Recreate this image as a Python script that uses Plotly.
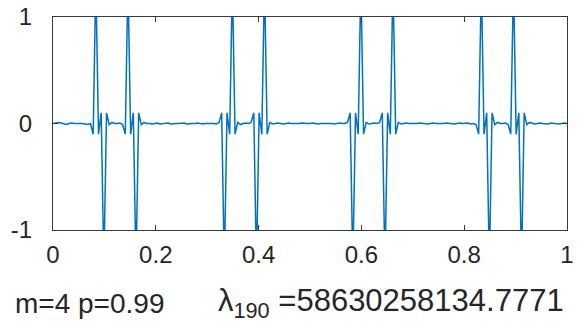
import plotly.graph_objects as go

# sample positions: 193 points on [0, 1], step 1/192
n_points = 193
x_vals = [i / 192 for i in range(n_points)]

# eigenvector values (spikes are clipped by the y-range)
y_vals = [
    0, 0.005, 0.01, 0.005, -0.005, -0.01, 0, 0.005, 0, 0, 0.005, 0, -0.005, -0.01, 0, -0.1,
    1.35, -0.1, 0.1, -1.35, 0.1, -0.01, 0.01, 0, 0, 0.005, -0.01, -0.1, 1.35, -0.1, 0.1, -1.35,
    0.1, -0.01, 0.01, 0, 0, -0.005, 0, 0.005, -0.005, 0, 0, 0.005, -0.005, 0, 0, 0,
    0, 0.005, -0.005, 0, 0, 0, 0.005, 0, -0.005, 0, 0, 0.005, 0, -0.005, 0.01, 0.1,
    -1.35, 0.1, -0.1, 1.35, -0.1, 0.01, -0.01, 0, 0.005, 0, 0.01, 0.1, -1.35, 0.1, -0.1, 1.35,
    -0.1, 0.01, -0.005, 0, 0.005, 0, -0.005, 0, 0.005, 0, 0, -0.005, 0, 0.005, 0, 0,
    0, 0.005, 0, -0.005, 0, 0, 0.005, 0, 0, -0.005, 0, 0.005, 0, 0, 0.01, 0.1,
    -1.35, 0.1, -0.1, 1.35, -0.1, 0.01, -0.005, 0, 0.005, 0, 0.01, 0.1, -1.35, 0.1, -0.1, 1.35,
    -0.1, 0.01, -0.005, 0, 0.005, 0, 0, -0.005, 0, 0.005, 0, 0, -0.005, 0, 0.005, 0,
    0, -0.005, 0, 0.005, 0, 0, -0.005, 0, 0.005, 0, 0, 0.005, -0.005, 0, -0.01, -0.1,
    1.35, -0.1, 0.1, -1.35, 0.1, -0.01, 0.01, 0, 0, 0.005, -0.01, -0.1, 1.35, -0.1, 0.1, -1.35,
    0.1, -0.01, 0.01, 0, -0.005, 0, 0.005, 0, 0, -0.005, 0.005, 0, 0, -0.005, 0, 0.005,
    0,
]

x_ticks = [0, 0.2, 0.4, 0.6, 0.8, 1]
x_tick_labels = ["0", "0.2", "0.4", "0.6", "0.8", "1"]
y_ticks = [-1, 0, 1]
y_tick_labels = ["-1", "0", "1"]

label_left = "m=4 p=0.99"
label_right = "λ<sub>190</sub> =58630258134.7771"

FONT = "Liberation Sans, Arial, sans-serif"
AX_COLOR = "#3a3a3a"
TXT_COLOR = "#262626"

fig = go.Figure()
fig.add_trace(go.Scatter(
    x=x_vals, y=y_vals, mode="lines",
    line=dict(color="#0072BD", width=1.5),
    hoverinfo="skip", showlegend=False,
))

axis_common = dict(
    showline=True, linecolor=AX_COLOR, linewidth=1.3, mirror="ticks",
    ticks="inside", ticklen=5, tickwidth=1, tickcolor=AX_COLOR,
    showgrid=False, zeroline=False, automargin=False,
    tickfont=dict(family=FONT, size=24, color=TXT_COLOR),
)

fig.update_xaxes(range=[0, 1], tickvals=x_ticks, ticktext=x_tick_labels,
                 ticklabelstandoff=3, **axis_common)
fig.update_yaxes(range=[-1, 1], tickvals=y_ticks, ticktext=y_tick_labels,
                 ticklabelstandoff=15, **axis_common)

fig.add_annotation(text=label_left, xref="paper", yref="paper",
                   x=-0.078, y=-0.345, xanchor="left", yanchor="middle",
                   showarrow=False, font=dict(family=FONT, size=28, color=TXT_COLOR))
fig.add_annotation(text=label_right, xref="paper", yref="paper",
                   x=0.318, y=-0.345, xanchor="left", yanchor="middle",
                   showarrow=False, font=dict(family=FONT, size=31, color=TXT_COLOR))

fig.update_layout(
    width=579, height=323,
    margin=dict(l=53, r=12, t=17, b=93),
    paper_bgcolor="white", plot_bgcolor="white",
)

fig.write_html("out.html", config={"displayModeBar": False},
               post_script="document.body.style.margin='0';document.body.style.overflow='hidden';")
